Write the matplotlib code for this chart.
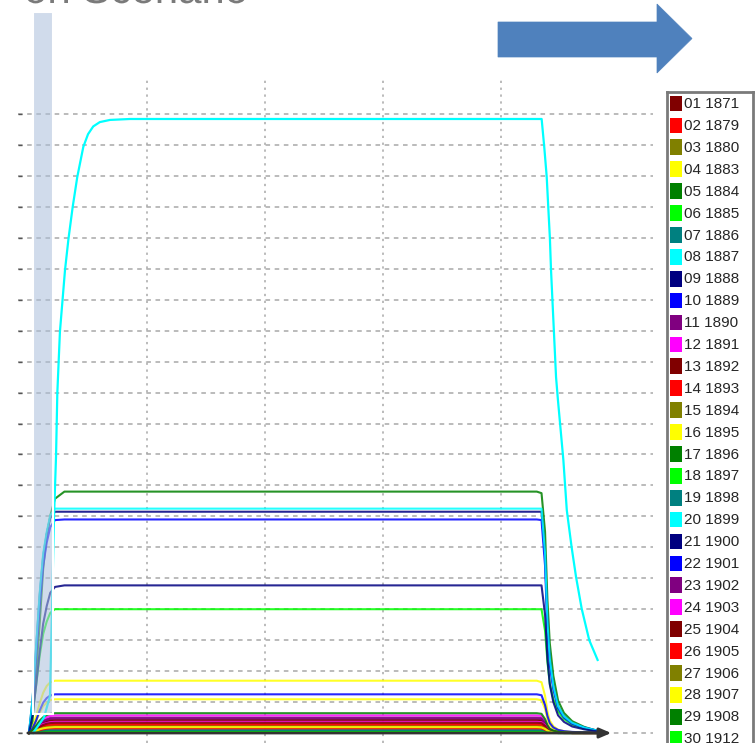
import matplotlib
matplotlib.use('Agg')
import matplotlib.pyplot as plt
from matplotlib.patches import Rectangle, Polygon, PathPatch
from matplotlib.textpath import TextPath
from matplotlib.font_manager import FontProperties
from matplotlib.transforms import Affine2D

W, H = 755, 743

# legend entries
codes = ['01', '02', '03', '04', '05', '06', '07', '08', '09', '10',
         '11', '12', '13', '14', '15', '16', '17', '18', '19', '20',
         '21', '22', '23', '24', '25', '26', '27', '28', '29', '30']
years = ['1871', '1879', '1880', '1883', '1884', '1885', '1886', '1887', '1888', '1889',
         '1890', '1891', '1892', '1893', '1894', '1895', '1896', '1897', '1898', '1899',
         '1900', '1901', '1902', '1903', '1904', '1905', '1906', '1907', '1908', '1912']
palette = ['#800000', '#FF0000', '#808000', '#FFFF00', '#008000', '#00FF00',
           '#008080', '#00FFFF', '#000080', '#0000FF', '#800080', '#FF00FF']

# time grid shared by most series
t_main = [0.0, 0.03, 0.06, 0.09, 0.12, 0.15, 0.18, 0.22, 0.3,
          4.3, 4.34, 4.37, 4.39, 4.41, 4.44, 4.48, 4.53, 4.6, 4.7, 4.8]

s01 = [0, 0.06, 0.16, 0.27, 0.34, 0.39, 0.42, 0.43, 0.43, 0.43, 0.42, 0.3, 0.17, 0.09, 0.05, 0.03, 0.02, 0.02, 0.01, 0.01]
s02 = [0, 0.04, 0.11, 0.18, 0.23, 0.26, 0.28, 0.29, 0.29, 0.29, 0.28, 0.2, 0.12, 0.06, 0.03, 0.02, 0.01, 0, 0, 0]
s03 = [0, 0.03, 0.09, 0.14, 0.18, 0.21, 0.22, 0.23, 0.23, 0.23, 0.22, 0.16, 0.09, 0.05, 0.03, 0.01, 0.01, 0, 0, 0]
s04 = [0, 0.2, 0.55, 0.95, 1.3, 1.52, 1.64, 1.69, 1.69, 1.69, 1.64, 1.2, 0.7, 0.4, 0.22, 0.11, 0.06, 0.03, 0.015, 0]
s05 = [0, 0.39, 1.95, 3.51, 5.3, 6.4, 7.02, 7.57, 7.8, 7.8, 7.75, 6.5, 4.3, 2.9, 1.85, 1.05, 0.65, 0.38, 0.2, 0.08]
s06 = [0, 0.6, 1.52, 2.48, 3.2, 3.6, 3.88, 4.0, 4.0, 4.0, 4.0, 3.3, 2.3, 1.6, 1.1, 0.7, 0.45, 0.27, 0.14, 0.06]
s07 = [0, 0.02, 0.04, 0.07, 0.09, 0.1, 0.11, 0.11, 0.11, 0.11, 0.11, 0.08, 0.04, 0.02, 0.01, 0.01, 0, 0, 0, 0]
s09 = [0, 1.07, 2.72, 4.43, 5.72, 6.44, 6.94, 7.15, 7.15, 7.15, 7.15, 5.72, 3.58, 2.36, 1.5, 0.86, 0.54, 0.32, 0.18, 0.09]
s10 = [0, 0.9, 2.5, 4.1, 5.4, 6.15, 6.65, 6.88, 6.9, 6.9, 6.88, 5.4, 3.3, 2.2, 1.4, 0.8, 0.5, 0.3, 0.17, 0.08]
s11 = [0, 0.08, 0.19, 0.31, 0.4, 0.45, 0.49, 0.5, 0.5, 0.5, 0.49, 0.35, 0.2, 0.11, 0.06, 0.03, 0.02, 0.01, 0, 0]
s12 = [0, 0.09, 0.22, 0.35, 0.46, 0.51, 0.55, 0.57, 0.57, 0.57, 0.55, 0.4, 0.23, 0.13, 0.07, 0.03, 0.02, 0.01, 0, 0]
s13 = [0, 0.06, 0.15, 0.25, 0.32, 0.36, 0.39, 0.4, 0.4, 0.4, 0.39, 0.28, 0.16, 0.09, 0.05, 0.04, 0.03, 0.03, 0.03, 0.02]
s14 = [0, 0.04, 0.1, 0.16, 0.21, 0.23, 0.25, 0.26, 0.26, 0.26, 0.25, 0.18, 0.1, 0.06, 0.03, 0.02, 0.01, 0, 0, 0]
s15 = [0, 0.03, 0.06, 0.11, 0.14, 0.15, 0.16, 0.17, 0.17, 0.17, 0.16, 0.12, 0.07, 0.04, 0.02, 0.01, 0, 0, 0, 0]
s16 = [0, 0.15, 0.38, 0.65, 0.87, 0.98, 1.06, 1.09, 1.09, 1.09, 1.06, 0.78, 0.45, 0.26, 0.14, 0.07, 0.04, 0.02, 0.01, 0]
s17 = [0, 0.01, 0.02, 0.04, 0.05, 0.05, 0.06, 0.06, 0.06, 0.06, 0.06, 0.04, 0.02, 0.01, 0.01, 0, 0, 0, 0, 0]
s18 = [0, 0.01, 0.02, 0.03, 0.04, 0.05, 0.05, 0.05, 0.05, 0.05, 0.05, 0.04, 0.02, 0.01, 0.01, 0, 0, 0, 0, 0]
s19 = [0, 0.01, 0.03, 0.05, 0.06, 0.07, 0.08, 0.08, 0.08, 0.08, 0.08, 0.06, 0.03, 0.02, 0.01, 0, 0, 0, 0, 0]
s20 = [0, 1.1, 2.8, 4.5, 5.8, 6.5, 7.03, 7.25, 7.25, 7.25, 7.25, 5.8, 3.6, 2.4, 1.52, 0.87, 0.54, 0.33, 0.18, 0.09]
s21 = [0, 0.57, 1.53, 2.62, 3.53, 4.1, 4.53, 4.72, 4.77, 4.77, 4.77, 3.82, 2.39, 1.57, 1.0, 0.57, 0.36, 0.21, 0.12, 0.06]
s22 = [0, 0.15, 0.4, 0.72, 0.98, 1.13, 1.21, 1.25, 1.25, 1.25, 1.22, 0.9, 0.55, 0.32, 0.18, 0.1, 0.06, 0.035, 0.02, 0.01]
s23 = [0, 0.07, 0.18, 0.29, 0.38, 0.42, 0.46, 0.47, 0.47, 0.47, 0.46, 0.33, 0.19, 0.1, 0.06, 0.03, 0.01, 0.01, 0, 0]
s24 = [0, 0.05, 0.14, 0.22, 0.29, 0.32, 0.35, 0.36, 0.36, 0.36, 0.35, 0.25, 0.14, 0.08, 0.04, 0.02, 0.01, 0, 0, 0]
s25 = [0, 0.05, 0.13, 0.2, 0.26, 0.3, 0.32, 0.33, 0.33, 0.33, 0.32, 0.23, 0.13, 0.07, 0.04, 0.02, 0.01, 0, 0, 0]
s26 = [0, 0.02, 0.06, 0.09, 0.12, 0.14, 0.15, 0.15, 0.15, 0.15, 0.15, 0.1, 0.06, 0.03, 0.02, 0.01, 0, 0, 0, 0]
s27 = [0, 0.03, 0.08, 0.13, 0.17, 0.19, 0.2, 0.21, 0.21, 0.21, 0.2, 0.15, 0.08, 0.05, 0.03, 0.01, 0.01, 0, 0, 0]
s28 = [0, 0.03, 0.07, 0.12, 0.15, 0.17, 0.18, 0.19, 0.19, 0.19, 0.18, 0.13, 0.08, 0.04, 0.02, 0.01, 0.01, 0, 0, 0]
s29 = [0, 0.1, 0.24, 0.4, 0.51, 0.58, 0.62, 0.64, 0.64, 0.64, 0.62, 0.45, 0.26, 0.14, 0.08, 0.04, 0.02, 0.01, 0.01, 0]
s30 = [0, 0, 0.01, 0.02, 0.02, 0.03, 0.03, 0.03, 0.03, 0.03, 0.03, 0.02, 0.01, 0.01, 0, 0, 0, 0, 0, 0]

# 1887 rises and falls slower, own time points
t_s08 = [0.034, 0.127, 0.178, 0.195, 0.212, 0.229, 0.24, 0.262, 0.305, 0.334, 0.37, 0.409, 0.46,
         0.5, 0.544, 0.6, 0.686, 0.855, 4.341, 4.363, 4.384, 4.397, 4.411, 4.42, 4.431, 4.463, 4.479,
         4.525, 4.554, 4.595, 4.632, 4.68, 4.744, 4.815]
s08 = [0, 0.5, 1.2, 4.0, 7.0, 8.95, 11.0, 12.97, 14.96, 15.96, 17.0, 17.97, 18.94,
       19.35, 19.6, 19.74, 19.81, 19.84, 19.84, 18.94, 17.97, 17.0, 15.98, 15.0, 14.1, 11.5, 10.76,
       8.82, 7.2, 6.0, 5.05, 4.02, 3.0, 2.36]

series = [s01, s02, s03, s04, s05, s06, s07, s08, s09, s10,
          s11, s12, s13, s14, s15, s16, s17, s18, s19, s20,
          s21, s22, s23, s24, s25, s26, s27, s28, s29, s30]


def px(x, y):
    # pixel (from top left) -> figure fraction
    return (x / W, 1 - y / H)


fig = plt.figure(figsize=(W / 100, H / 100), dpi=100)
fig.patch.set_facecolor('white')

ax = fig.add_axes([18 / W, 0, 635 / W, 663 / H])
ax.set_xlim(-0.0931, 5.284)
ax.set_ylim(-0.323, 21.1)
for sp in ax.spines.values():
    sp.set_visible(False)

ax.set_yticks(range(0, 21))
ax.set_xticks([1, 2, 3, 4])
ax.yaxis.grid(True, linestyle=(0, (3, 3)), color='#a8a8a8', lw=1.1)
ax.xaxis.grid(True, linestyle=(0, (1.5, 3)), color='#a8a8a8', lw=1.1)
ax.set_axisbelow(True)
ax.tick_params(axis='y', direction='in', length=3, width=1, color='#555555', labelleft=False)
ax.tick_params(axis='x', length=0, labelbottom=False)

for i, vals in enumerate(series):
    color = palette[i % 12]
    if i == 7:
        ax.plot(t_s08, vals, color=color, lw=1.6, zorder=3)
    else:
        ax.plot(t_main, vals, color=color, lw=1.5, alpha=0.85, zorder=2)

# axis arrows
ax.annotate('', xy=(0, 21.25), xytext=(0, -0.03),
            arrowprops=dict(arrowstyle='-|>,head_length=0.7,head_width=0.3',
                            color='#333333', lw=2, shrinkA=0, shrinkB=0), zorder=6)
ax.annotate('', xy=(4.93, 0), xytext=(-0.01, 0),
            arrowprops=dict(arrowstyle='-|>,head_length=0.7,head_width=0.3',
                            color='#333333', lw=2, shrinkA=0, shrinkB=0), zorder=6)

# highlight band over the start of the run
x0, y0 = px(33, 714)
fig.add_artist(Rectangle((x0, y0), 20 / W, 702 / H, transform=fig.transFigure,
                         facecolor=(0.67, 0.75, 0.86, 0.55), edgecolor='white',
                         lw=1.5, zorder=10))

# big blue arrow at the top
pts = [px(498, 22), px(657, 22), px(657, 4), px(692, 38.5),
       px(657, 73), px(657, 57), px(498, 57)]
fig.add_artist(Polygon(pts, closed=True, transform=fig.transFigure,
                       facecolor='#4F81BD', edgecolor='#4F81BD', lw=0.5, zorder=10))

# title is cut off at the top edge of the screenshot: draw it as a path so the
# part above the canvas is simply clipped (baseline 3 px below the top edge)
title_path = TextPath((0, 0), 'on Scenario', size=42,
                      prop=FontProperties(family='Liberation Sans'))
fig.add_artist(PathPatch(title_path, transform=Affine2D().translate(24, H - 3),
                         facecolor='#7a7a7a', edgecolor='none', zorder=10))

# legend box
lax = fig.add_axes([667 / W, 0, 86 / W, 651 / H])
lax.set_xlim(0, 86)
lax.set_ylim(29.2, -0.525)
lax.set_xticks([])
lax.set_yticks([])
for name, sp in lax.spines.items():
    sp.set_color('#7a7a7a')
    sp.set_linewidth(2)
lax.spines['bottom'].set_visible(False)
for i, (c, yr) in enumerate(zip(codes, years)):
    lax.add_patch(Rectangle((3, i - 0.36), 12, 0.72, facecolor=palette[i % 12],
                            edgecolor='none'))
    lax.text(16.5, i + 0.03, f'{c} {yr}', va='center', ha='left', fontsize=11,
             color='#262626', family='Liberation Sans')

fig.savefig('out.png', dpi=100)
